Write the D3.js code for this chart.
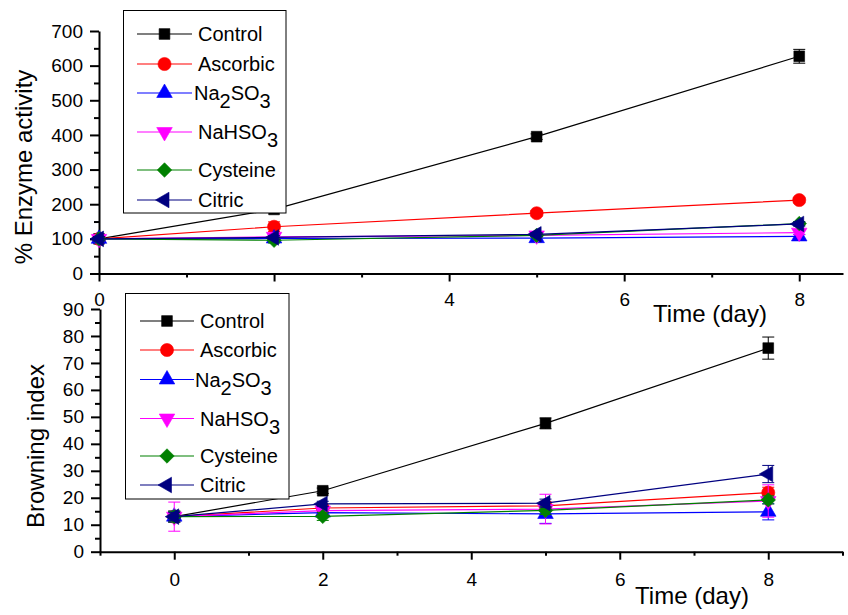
<!DOCTYPE html>
<html>
<head>
<meta charset="utf-8">
<script src="https://cdn.jsdelivr.net/npm/d3@7"></script>
<style>
  html, body { margin: 0; padding: 0; background: #fff; }
  svg { display: block; font-family: "Liberation Sans", Arial, sans-serif; }
</style>
</head>
<body>
<svg id="chart" width="848" height="615"></svg>
<script>
// Sampling days
const days = [0, 2, 5, 8];

// Series names, colours and marker shapes
const seriesNames = ["Control", "Ascorbic", "Na2SO3", "NaHSO3", "Cysteine", "Citric"];
const seriesColors = ["#000000", "#ff0000", "#0000ff", "#ff00ff", "#008000", "#000080"];
const seriesShapes = ["square", "circle", "triUp", "triDown", "diamond", "triLeft"];

// % Enzyme activity (mean) and error
const enzymeControl  = [100, 185, 395, 627];
const enzymeAscorbic = [100, 135, 174, 212];
const enzymeNa2SO3   = [100, 101, 102, 107];
const enzymeNaHSO3   = [100, 106, 110, 118];
const enzymeCysteine = [100, 96, 110, 144];
const enzymeCitric   = [100, 104, 113, 143];
const enzymeErrControl  = [6, 8, 8, 20];
const enzymeErrAscorbic = [6, 14, 8, 8];
const enzymeErrNa2SO3   = [6, 5, 5, 6];
const enzymeErrNaHSO3   = [6, 6, 6, 6];
const enzymeErrCysteine = [6, 8, 5, 6];
const enzymeErrCitric   = [6, 5, 5, 6];

// Browning index (mean) and error
const brownControl  = [13, 22.6, 47.6, 75.5];
const brownAscorbic = [13, 16.2, 17.0, 21.9];
const brownNa2SO3   = [13, 14.5, 14.0, 14.8];
const brownNaHSO3   = [13, 15.2, 15.8, 18.8];
const brownCysteine = [13, 13.1, 15.3, 19.2];
const brownCitric   = [13, 17.7, 18.0, 28.8];
const brownErrControl  = [2, 1, 2, 4.1];
const brownErrAscorbic = [2, 1, 1.5, 2];
const brownErrNa2SO3   = [2, 1, 3.5, 3];
const brownErrNaHSO3   = [5.4, 1.5, 5.5, 6];
const brownErrCysteine = [2, 1.5, 1.5, 1.5];
const brownErrCitric   = [1.5, 1, 1.5, 3.2];

// Axis ticks
const enzymeYTicks = [0, 100, 200, 300, 400, 500, 600, 700];
const enzymeYMinor = [50, 150, 250, 350, 450, 550, 650];
const enzymeXTicks = [0, 2, 4, 6, 8];
const enzymeXMinor = [1, 3, 5, 7];
const brownYTicks = [0, 10, 20, 30, 40, 50, 60, 70, 80, 90];
const brownYMinor = [5, 15, 25, 35, 45, 55, 65, 75, 85];
const brownXTicks = [0, 2, 4, 6, 8];
const brownXMinor = [-1, 1, 3, 5, 7, 9];

const enzymeMeans = [enzymeControl, enzymeAscorbic, enzymeNa2SO3, enzymeNaHSO3, enzymeCysteine, enzymeCitric];
const enzymeErrs = [enzymeErrControl, enzymeErrAscorbic, enzymeErrNa2SO3, enzymeErrNaHSO3, enzymeErrCysteine, enzymeErrCitric];
const brownMeans = [brownControl, brownAscorbic, brownNa2SO3, brownNaHSO3, brownCysteine, brownCitric];
const brownErrs = [brownErrControl, brownErrAscorbic, brownErrNa2SO3, brownErrNaHSO3, brownErrCysteine, brownErrCitric];

const svg = d3.select("#chart");
const FONT_TICK = 19, FONT_TITLE = 24, FONT_LEGEND = 20;

// Marker path generator
function markerPath(shape) {
  switch (shape) {
    case "square":  return d3.symbol(d3.symbolSquare, 115)();
    case "circle":  return d3.symbol(d3.symbolCircle, 135)();
    case "triUp":   return d3.symbol(d3.symbolTriangle, 105)();
    case "triDown": return d3.symbol(d3.symbolTriangle, 105)();
    case "diamond": return d3.symbol(d3.symbolSquare, 105)();
    case "triLeft": return d3.symbol(d3.symbolTriangle, 105)();
  }
}
function markerRotate(shape) {
  if (shape === "triDown") return 180;
  if (shape === "diamond") return 45;
  if (shape === "triLeft") return -90;
  return 0;
}
function drawMarker(g, shape, color, x, y) {
  g.append("path")
    .attr("d", markerPath(shape))
    .attr("transform", `translate(${x},${y}) rotate(${markerRotate(shape)})`)
    .attr("fill", color)
    .attr("stroke", color)
    .attr("stroke-width", 0.6);
}

function styleAxis(g) {
  g.selectAll(".domain").attr("stroke", "#000").attr("stroke-width", 2);
  g.selectAll(".tick line").attr("stroke", "#000").attr("stroke-width", 2);
  g.selectAll(".tick text").attr("fill", "#000").attr("font-size", FONT_TICK)
    .attr("font-family", '"Liberation Sans", Arial, sans-serif');
}

function drawPanel(opts) {
  const { x, y, yTicks, yMinor, xTicks, xMinor, means, errs, xTitle, yTitle, capW } = opts;
  const g = svg.append("g");

  // x axis
  const xAxisY = y.range()[0];
  const xMajor = g.append("g").attr("transform", `translate(0,${xAxisY})`)
    .call(d3.axisBottom(x).tickValues(xTicks).tickFormat(d3.format("d"))
      .tickSize(8).tickSizeOuter(0).tickPadding(opts.xPad));
  styleAxis(xMajor);
  const xMin = g.append("g").attr("transform", `translate(0,${xAxisY})`)
    .call(d3.axisBottom(x).tickValues(xMinor).tickFormat("").tickSize(4).tickSizeOuter(0));
  styleAxis(xMin);
  xMin.select(".domain").remove();

  // y axis
  const yAxisX = x.range()[0];
  const yMajor = g.append("g").attr("transform", `translate(${yAxisX},0)`)
    .call(d3.axisLeft(y).tickValues(yTicks).tickFormat(d3.format("d"))
      .tickSize(9).tickSizeOuter(0).tickPadding(7));
  styleAxis(yMajor);
  const yMin = g.append("g").attr("transform", `translate(${yAxisX},0)`)
    .call(d3.axisLeft(y).tickValues(yMinor).tickFormat("").tickSize(5).tickSizeOuter(0));
  styleAxis(yMin);
  yMin.select(".domain").remove();

  // titles
  g.append("text")
    .attr("x", xTitle.x).attr("y", xTitle.y)
    .attr("text-anchor", "middle").attr("font-size", FONT_TITLE)
    .text("Time (day)");
  g.append("text")
    .attr("transform", `translate(${yTitle.x},${yTitle.y}) rotate(-90)`)
    .attr("text-anchor", "middle").attr("font-size", FONT_TITLE)
    .text(yTitle.text);

  // series
  const line = d3.line().x(d => x(d[0])).y(d => y(d[1]));
  means.forEach((vals, i) => {
    const color = seriesColors[i];
    const pts = days.map((d, j) => [d, vals[j], errs[i][j]]);
    const sg = g.append("g");
    sg.append("path").datum(pts)
      .attr("d", line).attr("fill", "none")
      .attr("stroke", color).attr("stroke-width", 1.2);
    pts.forEach(p => {
      const px = x(p[0]), top = y(p[1] + p[2]), bot = y(p[1] - p[2]);
      sg.append("line").attr("x1", px).attr("x2", px).attr("y1", top).attr("y2", bot)
        .attr("stroke", color).attr("stroke-width", 1);
      [top, bot].forEach(cy => sg.append("line")
        .attr("x1", px - capW / 2).attr("x2", px + capW / 2).attr("y1", cy).attr("y2", cy)
        .attr("stroke", color).attr("stroke-width", 1));
      drawMarker(sg, seriesShapes[i], color, px, y(p[1]));
    });
  });
}

function drawLegend(box, rows, lineX, textX) {
  const lg = svg.append("g");
  lg.append("rect")
    .attr("x", box.x).attr("y", box.y).attr("width", box.w).attr("height", box.h)
    .attr("fill", "#fff").attr("stroke", "#000").attr("stroke-width", 1);
  seriesNames.forEach((name, i) => {
    const yy = rows[i];
    const color = seriesColors[i];
    lg.append("line").attr("x1", lineX[0]).attr("x2", lineX[1]).attr("y1", yy).attr("y2", yy)
      .attr("stroke", color).attr("stroke-width", 1.2);
    drawMarker(lg, seriesShapes[i], color, (lineX[0] + lineX[1]) / 2, yy);
    const t = lg.append("text").attr("x", textX[i]).attr("y", yy + 7).attr("font-size", FONT_LEGEND);
    // chemical formulas get subscript digits
    const parts = name.match(/[A-Za-z]+|\d+/g);
    let shifted = false;
    parts.forEach(part => {
      const isNum = /^\d+$/.test(part);
      const ts = t.append("tspan").text(part);
      if (isNum && !shifted) { ts.attr("dy", 8); shifted = true; }
      else if (!isNum && shifted) { ts.attr("dy", -8); shifted = false; }
    });
  });
}

// Top panel: % Enzyme activity
const xTop = d3.scaleLinear().domain([0, 8.5]).range([99, 843]);
const yTop = d3.scaleLinear().domain([0, 700]).range([273.5, 31]);
drawPanel({
  x: xTop, y: yTop, yTicks: enzymeYTicks, yMinor: enzymeYMinor,
  xTicks: enzymeXTicks, xMinor: enzymeXMinor,
  means: enzymeMeans, errs: enzymeErrs, xPad: 11.5, capW: 12,
  xTitle: { x: 710, y: 322 },
  yTitle: { x: 32, y: 167, text: "% Enzyme activity" }
});
drawLegend({ x: 123.5, y: 10.5, w: 162.5, h: 202.5 },
  [34, 64, 93, 132, 170, 200], [137, 192], [198, 198, 194, 198, 198, 198]);

// Bottom panel: Browning index
const xBot = d3.scaleLinear().domain([-1, 9]).range([100, 842.5]);
const yBot = d3.scaleLinear().domain([0, 90]).range([551.7, 309]);
drawPanel({
  x: xBot, y: yBot, yTicks: brownYTicks, yMinor: brownYMinor,
  xTicks: brownXTicks, xMinor: brownXMinor,
  means: brownMeans, errs: brownErrs, xPad: 12.8, capW: 12,
  xTitle: { x: 692, y: 604 },
  yTitle: { x: 44, y: 446, text: "Browning index" }
});
drawLegend({ x: 125.5, y: 293.5, w: 163.5, h: 205.5 },
  [321, 350, 379.5, 418.5, 456, 485], [140, 194], [200, 200, 195, 200, 200, 200]);
</script>
</body>
</html>
